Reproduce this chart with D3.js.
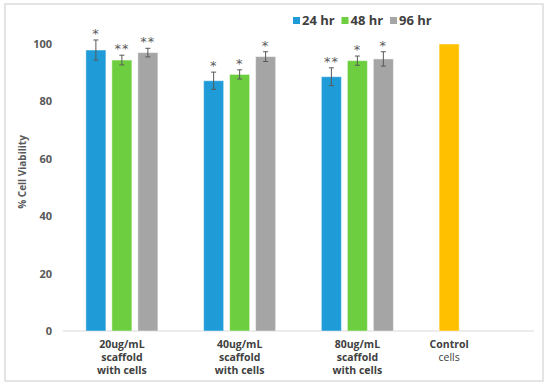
<!DOCTYPE html>
<html lang="en">
<head>
<meta charset="UTF-8">
<title>% Cell Viability</title>
<script src="https://d3js.org/d3.v7.min.js"></script>
<style>
    body { margin: 0; background: #fff; font-family: 'Open Sans', sans-serif; }
    svg text { fill: #404040; }
</style>
</head>
<body>
<div id="chart"></div>
<script>
// categories and series
const categories = ["20ug/mL", "40ug/mL", "80ug/mL", "Control"];
const categoryLines = [
    ["20ug/mL", "scaffold", "with cells"],
    ["40ug/mL", "scaffold", "with cells"],
    ["80ug/mL", "scaffold", "with cells"],
    ["Control", "cells"]
];
const series = ["24 hr", "48 hr", "96 hr"];
const seriesColors = ["#1f9bd7", "#6dcf3f", "#a5a5a5"];
const controlColor = "#ffc000";

// values
const values24 = [97.9, 87.2, 88.6];
const values48 = [94.4, 89.4, 94.2];
const values96 = [97.0, 95.6, 94.8];
const err24 = [3.5, 3.0, 3.1];
const err48 = [1.7, 1.6, 1.6];
const err96 = [1.5, 1.7, 2.5];
const stars24 = ["*", "*", "**"];
const stars48 = ["**", "*", "*"];
const stars96 = ["**", "*", "*"];
const controlValue = 100;
const yTicks = [0, 20, 40, 60, 80, 100];

const W = 550, H = 386;
const margin = { top: 44, right: 16, bottom: 55, left: 63 };

const svg = d3.select("#chart").append("svg")
    .attr("width", W).attr("height", H);

// outer frame
svg.append("rect")
    .attr("x", 5).attr("y", 4)
    .attr("width", 538).attr("height", 377)
    .attr("fill", "#fff")
    .attr("stroke", "#dcdcdc")
    .attr("stroke-width", 1.5);

const x = d3.scaleBand()
    .domain(categories)
    .range([margin.left, W - margin.right])
    .paddingInner(0).paddingOuter(0);

const xSub = d3.scaleBand()
    .domain(series)
    .range([0, x.bandwidth()])
    .paddingInner(0.23)
    .paddingOuter(0.88);

const y = d3.scaleLinear()
    .domain([0, 100])
    .range([H - margin.bottom, margin.top]);

// y axis (labels only)
const yAxis = svg.append("g")
    .attr("transform", `translate(${margin.left},0)`)
    .call(d3.axisLeft(y).tickValues(yTicks).tickSize(0).tickPadding(11));
yAxis.select(".domain").remove();
yAxis.selectAll("text")
    .style("font-family", "'Open Sans', sans-serif")
    .style("font-size", "11px")
    .style("font-weight", "bold")
    .style("fill", "#595959");

// y title
svg.append("text")
    .attr("transform", "translate(26,172) rotate(-90)")
    .attr("text-anchor", "middle")
    .style("font-size", "10px")
    .style("font-weight", "bold")
    .style("fill", "#595959")
    .text("% Cell Viability");

// x baseline
svg.append("line")
    .attr("x1", margin.left).attr("x2", W - margin.right)
    .attr("y1", y(0)).attr("y2", y(0))
    .attr("stroke", "#d9d9d9").attr("stroke-width", 1);

// build bar records
const seriesValues = [values24, values48, values96];
const seriesErr = [err24, err48, err96];
const seriesStars = [stars24, stars48, stars96];
const bars = [];
series.forEach((s, si) => {
    seriesValues[si].forEach((v, ci) => {
        bars.push({ cat: categories[ci], s, v, e: seriesErr[si][ci], star: seriesStars[si][ci], color: seriesColors[si] });
    });
});
bars.push({ cat: "Control", s: series[0], v: controlValue, e: 0, star: "", color: controlColor });

const barW = xSub.bandwidth();

svg.append("g").selectAll("rect")
    .data(bars).enter().append("rect")
    .attr("x", d => x(d.cat) + xSub(d.s))
    .attr("y", d => y(d.v))
    .attr("width", barW)
    .attr("height", d => y(0) - y(d.v))
    .attr("fill", d => d.color)
    .attr("stroke", "#fff")
    .attr("stroke-opacity", 0.45)
    .attr("stroke-width", 1);

// error bars
const errBars = bars.filter(d => d.e > 0);
const eg = svg.append("g").attr("stroke", "#595959").attr("stroke-width", 1);
errBars.forEach(d => {
    const cx = x(d.cat) + xSub(d.s) + barW / 2;
    eg.append("line").attr("x1", cx).attr("x2", cx).attr("y1", y(d.v + d.e)).attr("y2", y(d.v - d.e));
    eg.append("line").attr("x1", cx - 2.5).attr("x2", cx + 2.5).attr("y1", y(d.v + d.e)).attr("y2", y(d.v + d.e));
    eg.append("line").attr("x1", cx - 2.5).attr("x2", cx + 2.5).attr("y1", y(d.v - d.e)).attr("y2", y(d.v - d.e));
});

// significance stars
svg.append("g").selectAll("text")
    .data(errBars).enter().append("text")
    .attr("x", d => x(d.cat) + xSub(d.s) + barW / 2)
    .attr("y", d => y(d.v + d.e) - 2)
    .attr("text-anchor", "middle")
    .style("font-family", "'DejaVu Sans', sans-serif")
    .style("font-size", "13px")
    .style("letter-spacing", "1px")
    .style("fill", "#595959")
    .text(d => d.star);

// category labels
const labelG = svg.append("g");
categoryLines.forEach((lines, ci) => {
    const cat = categories[ci];
    const cx = cat === "Control"
        ? x(cat) + xSub(series[0]) + barW / 2
        : x(cat) + x.bandwidth() / 2;
    const t = labelG.append("text").attr("text-anchor", "middle");
    lines.forEach((ln, li) => {
        const ctrlCells = cat === "Control" && li === 1;
        t.append("tspan")
            .attr("x", cx)
            .attr("y", y(0) + 17 + li * 13)
            .style("font-size", "10.5px")
            .style("font-weight", ctrlCells ? "normal" : "bold")
            .text(ln);
    });
});

// legend
const legend = svg.append("g").attr("transform", "translate(293,17)");
series.forEach((s, i) => {
    const g = legend.append("g").attr("transform", `translate(${i * 48.5},0)`);
    g.append("rect").attr("width", 7).attr("height", 7).attr("fill", seriesColors[i]);
    g.append("text")
        .attr("x", 9).attr("y", 7.5)
        .style("font-size", "13px")
        .style("font-weight", "bold")
        .text(s);
});
</script>
</body>
</html>
